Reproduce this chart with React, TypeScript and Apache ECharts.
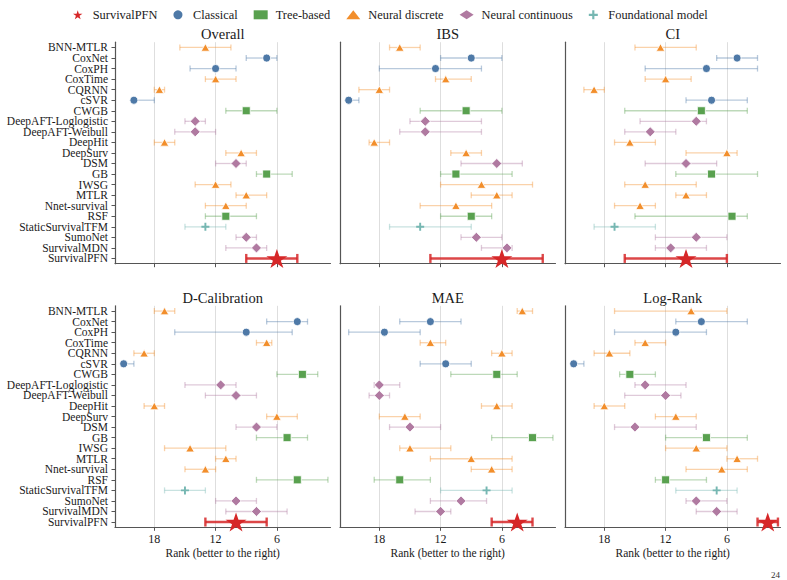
import React, { useEffect, useRef } from "react";
import * as echarts from "echarts";

const FONT = "'Liberation Serif', 'Times New Roman', serif";
const TEXT = "#1a1a1a";
const AXIS = "#555555";

const methods = [
  "BNN-MTLR", "CoxNet", "CoxPH", "CoxTime", "CQRNN", "cSVR", "CWGB",
  "DeepAFT-Loglogistic", "DeepAFT-Weibull", "DeepHit", "DeepSurv", "DSM",
  "GB", "IWSG", "MTLR", "Nnet-survival", "RSF", "StaticSurvivalTFM",
  "SumoNet", "SurvivalMDN", "SurvivalPFN",
];

const families = [
  "SurvivalPFN", "Classical", "Tree-based", "Neural discrete",
  "Neural continuous", "Foundational model",
];

// family index of each method, same order as `methods`
const familyOf = [3, 1, 1, 3, 3, 1, 2, 4, 4, 3, 3, 4, 2, 3, 3, 3, 2, 5, 4, 4, 0];

const familyColors = ["#d62728", "#4e79a7", "#59a14f", "#f28e2b", "#b07aa1", "#76b7b2"];

const rankTicks = [18, 12, 6];

// [median rank, worse end, better end]
const overall: number[][] = [
  [13, 15.5, 10.5], [7, 9, 6], [12, 14.5, 10], [12, 13, 10], [17.5, 18, 17],
  [20, 20, 18], [9, 11, 6], [14, 15, 13], [14, 16, 12], [17, 18, 16],
  [9.5, 11, 8], [10, 12, 9], [7, 8, 4.5], [12, 14, 10.5], [9, 10, 7],
  [11, 13, 9], [11, 13, 8], [13, 15, 11], [9, 10, 8], [8, 11, 7], [6, 9, 4],
];

const ibs: number[][] = [
  [16, 17, 14], [9, 12, 6], [12.5, 18, 8], [11.5, 12.5, 9], [18, 20, 17],
  [21, 21, 20], [9.5, 14, 6], [13.5, 15, 8], [13.5, 16, 8], [18.5, 19, 17],
  [9.5, 11, 8], [6.5, 10, 4], [10.5, 12, 5], [8, 12, 3], [6.5, 9, 5],
  [10.5, 14, 7], [9, 12, 7], [14, 17, 9], [8.5, 10, 6], [5.5, 8, 5], [6, 13, 2],
];

const ci: number[][] = [
  [12.5, 15, 9], [5, 7, 3], [8, 14, 3], [12, 14, 9.5], [19, 20, 18],
  [7.5, 10, 4], [8.5, 16, 4], [9, 14.5, 8], [13.5, 16, 11], [15.5, 17, 13],
  [6, 10, 5], [10, 14, 7], [7.5, 11, 3], [14, 16, 9], [10, 11, 8],
  [14.5, 17, 13], [5.5, 15, 4], [17, 19, 13], [9, 13, 6], [11.5, 13, 8], [10, 16, 6],
];

const dCalibration: number[][] = [
  [17, 18, 16], [4, 7, 3], [9, 16, 4.5], [7, 8, 6.5], [19, 20, 18],
  [21, 21, 20], [3.5, 6, 2], [11.5, 15, 10], [10, 13, 8], [18, 19, 17],
  [6, 7, 4], [8, 10, 6], [5, 8, 3], [14.5, 17, 11], [11, 12, 10],
  [13, 15, 12], [4, 8, 1], [15, 17, 13], [10, 12, 8], [8, 11, 5], [10, 13, 7],
];

const mae: number[][] = [
  [4, 4.5, 3], [13, 16, 10], [17.5, 21, 14], [13, 14, 11.5], [6, 7, 5],
  [11.5, 14, 9], [6.5, 11, 4.5], [18, 18.5, 16], [18, 19, 17], [6.5, 8, 5],
  [15.5, 18, 14], [15, 17, 12], [3, 7, 1], [15, 16, 11], [9, 13, 5],
  [7, 9, 5], [16, 18.5, 13], [7.5, 12, 5], [10, 13, 7.5], [12, 14.5, 11], [4.5, 7, 3],
];

const logRank: number[][] = [
  [9.5, 17, 6], [8.5, 11, 4], [11, 17, 8], [14, 15, 12], [17.5, 19, 15.5],
  [21, 21, 20], [15.5, 16.5, 13], [14, 15, 10], [12, 16, 10.5], [18, 19, 16],
  [11, 13, 9], [15, 17, 9], [8, 12, 4], [9, 12, 6], [5, 6, 3],
  [6.5, 10, 4], [12, 13, 8], [7, 11, 5], [9, 10, 6], [7, 9, 5], [2, 3, 1],
];

const panels = [
  { title: "Overall", data: overall },
  { title: "IBS", data: ibs },
  { title: "CI", data: ci },
  { title: "D-Calibration", data: dCalibration },
  { title: "MAE", data: mae },
  { title: "Log-Rank", data: logRank },
];

const STAR =
  "path://M50,0L61.17,34.63L97.55,34.55L68.07,55.87L79.39,90.45L50,69L20.61,90.45L31.93,55.87L2.45,34.55L38.83,34.63Z";
const PLUS = "path://M38,0H62V38H100V62H62V100H38V62H0V38H38Z";

const familySymbols = [STAR, "circle", "rect", "triangle", "diamond", PLUS];
const familySizes: (number | number[])[] = [[21, 20], 8, 8, [8.5, 7.5], [10, 10], 8];

// panel geometry
const COL_LEFT = [115, 340, 565];
const PANEL_W = 215.5;
const ROW_TOP = [42.2, 305.8];
const PANEL_H = 221.5;
const TITLE_Y = [33.5, 297.5];

function rgba(hex: string, a: number) {
  const n = parseInt(hex.slice(1), 16);
  return `rgba(${(n >> 16) & 255},${(n >> 8) & 255},${n & 255},${a})`;
}

function buildOption() {
  const grid: any[] = [];
  const xAxis: any[] = [];
  const yAxis: any[] = [];
  const series: any[] = [];
  const graphic: any[] = [];

  panels.forEach((panel, p) => {
    const row = Math.floor(p / 3);
    const col = p % 3;
    grid.push({
      left: COL_LEFT[col],
      top: ROW_TOP[row],
      width: PANEL_W,
      height: PANEL_H,
      containLabel: false,
    });
    xAxis.push({
      type: "value",
      gridIndex: p,
      inverse: true,
      min: 0.75,
      max: 21.85,
      name: row === 1 ? "Rank (better to the right)" : "",
      nameLocation: "middle",
      nameGap: 20,
      nameTextStyle: { fontFamily: FONT, fontSize: 11.5, color: TEXT },
      axisLine: { show: true, lineStyle: { color: AXIS, width: 1.2 } },
      axisTick: {
        show: true,
        customValues: rankTicks,
        length: 3.5,
        lineStyle: { color: AXIS, width: 1 },
      },
      axisLabel: {
        show: row === 1,
        customValues: rankTicks,
        fontFamily: FONT,
        fontSize: 12,
        color: TEXT,
        margin: 6,
      },
      splitLine: { show: true, lineStyle: { color: "#dedede", width: 1 } },
    });
    yAxis.push({
      type: "category",
      gridIndex: p,
      data: methods,
      inverse: true,
      axisLine: { show: true, lineStyle: { color: AXIS, width: 1.2 } },
      axisTick: {
        show: col === 0,
        alignWithLabel: true,
        length: 3.5,
        lineStyle: { color: AXIS, width: 1 },
      },
      axisLabel: {
        show: col === 0,
        fontFamily: FONT,
        fontSize: 11.5,
        color: TEXT,
        margin: 7,
        interval: 0,
      },
      splitLine: { show: false },
    });

    // error bars with caps
    series.push({
      type: "custom",
      xAxisIndex: p,
      yAxisIndex: p,
      silent: true,
      z: 1,
      encode: { x: [1, 2, 3], y: 0 },
      data: panel.data.map((d, i) => [i, d[0], d[1], d[2], familyOf[i]]),
      renderItem: (params: any, api: any) => {
        const y = api.value(0);
        const fam = api.value(4);
        const a = api.coord([api.value(2), y]);
        const b = api.coord([api.value(3), y]);
        const main = fam === 0;
        const cap = main ? 4.5 : 3;
        const style = {
          stroke: rgba(familyColors[fam], main ? 0.85 : 0.4),
          lineWidth: main ? 2.4 : 1.3,
        };
        return {
          type: "group",
          children: [
            { type: "line", shape: { x1: a[0], y1: a[1], x2: b[0], y2: b[1] }, style },
            { type: "line", shape: { x1: a[0], y1: a[1] - cap, x2: a[0], y2: a[1] + cap }, style },
            { type: "line", shape: { x1: b[0], y1: b[1] - cap, x2: b[0], y2: b[1] + cap }, style },
          ],
        };
      },
    });

    // markers, one series per family
    families.forEach((fam, f) => {
      const pts: number[][] = [];
      panel.data.forEach((d, i) => {
        if (familyOf[i] === f) pts.push([d[0], i]);
      });
      const outlined = f !== 0 && f !== 5;
      series.push({
        type: "scatter",
        name: fam,
        xAxisIndex: p,
        yAxisIndex: p,
        z: f === 0 ? 4 : 3,
        symbol: familySymbols[f],
        symbolSize: familySizes[f],
        symbolKeepAspect: true,
        itemStyle: {
          color: familyColors[f],
          borderColor: "#ffffff",
          borderWidth: outlined ? 0.8 : 0,
          opacity: 1,
        },
        data: pts,
      });
    });

    graphic.push({
      type: "text",
      x: COL_LEFT[col] + PANEL_W / 2,
      y: TITLE_Y[row],
      style: {
        text: panel.title,
        font: `14.5px ${FONT}`,
        fill: TEXT,
        textAlign: "center",
        textVerticalAlign: "middle",
      },
    });
  });

  graphic.push({
    type: "text",
    x: 771,
    y: 570,
    style: {
      text: "24",
      font: `9px ${FONT}`,
      fill: "#333333",
      textAlign: "left",
      textVerticalAlign: "top",
    },
  });

  return {
    animation: false,
    backgroundColor: "#ffffff",
    legend: {
      left: 73,
      top: 8.8,
      padding: 0,
      itemWidth: 14,
      itemHeight: 9,
      itemGap: 16,
      selectedMode: false,
      itemStyle: { borderWidth: 0 },
      data: families.map((f, i) => ({
        name: f,
        icon: familySymbols[i],
        itemStyle: { color: familyColors[i], borderWidth: 0 },
      })),
      textStyle: { fontFamily: FONT, fontSize: 12.4, color: TEXT, padding: [0, 0, 0, 3] },
    },
    grid,
    xAxis,
    yAxis,
    series,
    graphic,
  };
}

export default function App() {
  const ref = useRef<HTMLDivElement>(null);
  useEffect(() => {
    if (!ref.current) return;
    const chart = echarts.init(ref.current, undefined, { renderer: "svg" });
    chart.setOption(buildOption() as any);
    return () => chart.dispose();
  }, []);
  return (
    <div
      ref={ref}
      style={{ position: "fixed", left: 0, top: 0, width: 787, height: 580, background: "#fff" }}
    />
  );
}
